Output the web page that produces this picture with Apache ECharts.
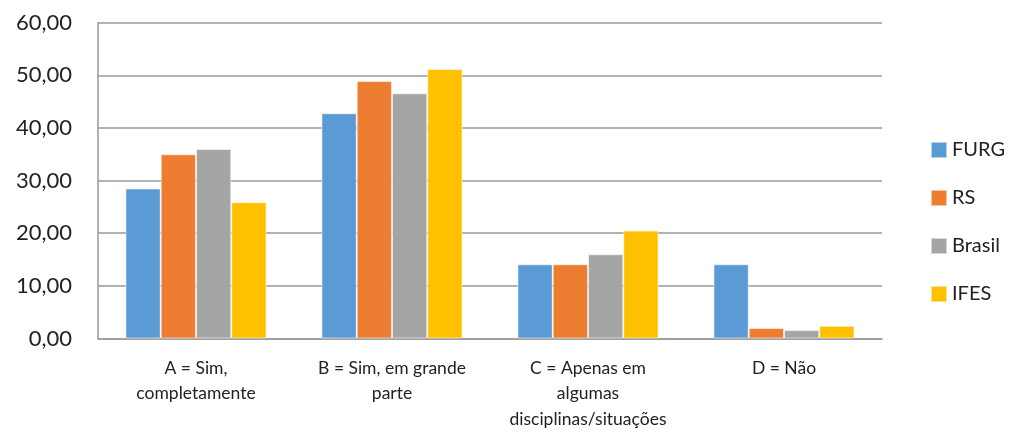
<!DOCTYPE html>
<html>
<head>
<meta charset="utf-8">
<script src="https://cdn.jsdelivr.net/npm/echarts@6/dist/echarts.min.js"></script>
<style>
  html, body { margin: 0; padding: 0; background: #ffffff; }
  #chart { width: 1011px; height: 432px; }
</style>
</head>
<body>
<div id="chart"></div>
<script>
// Response categories (line breaks as shown under the axis)
const categories = [
  'A = Sim,\ncompletamente',
  'B = Sim, em grande\nparte',
  'C = Apenas em\nalgumas\ndisciplinas/situações',
  'D = Não'
];

// Percentages per group
const furg   = [28.5, 42.8, 14.1, 14.1];
const rs     = [35.0, 48.9, 14.1, 2.0];
const brasil = [36.0, 46.6, 16.0, 1.6];
const ifes   = [25.9, 51.2, 20.5, 2.4];

const seriesNames  = ['FURG', 'RS', 'Brasil', 'IFES'];
const seriesValues = [furg, rs, brasil, ifes];
const seriesColors = ['#5B9BD5', '#ED7D31', '#A5A5A5', '#FFC000'];

const yMin = 0, yMax = 60, yStep = 10;

const fontFamily = 'Lato, "Open Sans", sans-serif';

const chart = echarts.init(document.getElementById('chart'), null, { renderer: 'canvas' });

chart.setOption({
  animation: false,
  backgroundColor: '#ffffff',
  grid: { left: 98, right: 129, top: 22.7, bottom: 92, containLabel: false },
  legend: {
    orient: 'vertical',
    left: 925,
    top: 135,
    itemWidth: 16,
    itemHeight: 16,
    itemGap: 28,
    icon: 'rect',
    textStyle: { fontFamily: fontFamily, fontSize: 20, color: '#222222' },
    data: seriesNames
  },
  xAxis: {
    type: 'category',
    data: categories,
    axisLine: { show: true, lineStyle: { color: '#999999', width: 1.5 } },
    axisTick: { show: false },
    axisLabel: {
      interval: 0,
      margin: 17,
      fontFamily: fontFamily,
      fontSize: 17.5,
      lineHeight: 25.5,
      color: '#222222',
      align: 'center'
    }
  },
  yAxis: {
    type: 'value',
    min: yMin,
    max: yMax,
    interval: yStep,
    axisLine: { show: true, lineStyle: { color: '#999999', width: 1.5 } },
    axisTick: { show: false },
    splitLine: { show: true, lineStyle: { color: '#999999', width: 1.5 } },
    axisLabel: {
      margin: 26,
      fontFamily: fontFamily,
      fontSize: 22,
      color: '#222222',
      formatter: v => v.toFixed(2).replace('.', ',')
    }
  },
  series: seriesNames.map((name, i) => ({
    name: name,
    type: 'bar',
    data: seriesValues[i],
    barGap: '0%',
    barCategoryGap: '28%',
    itemStyle: {
      color: seriesColors[i],
      borderColor: 'rgba(255,255,255,0.55)',
      borderWidth: 1
    }
  }))
});
</script>
</body>
</html>
